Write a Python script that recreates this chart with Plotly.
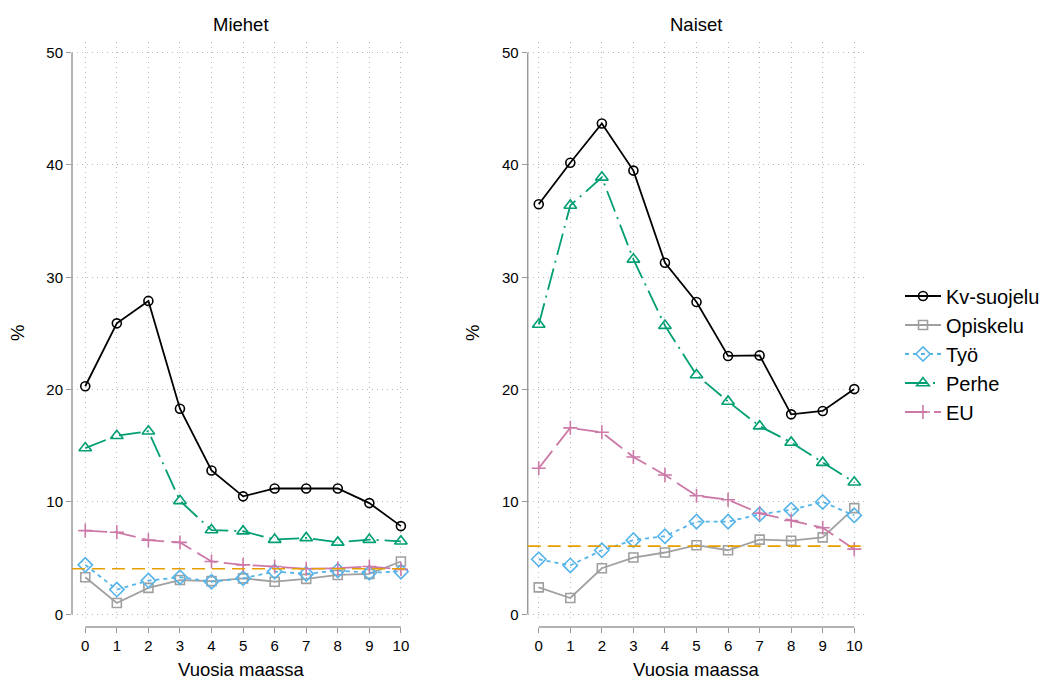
import plotly.graph_objects as go

years = list(range(0, 11))
series_names = ["Kv-suojelu", "Opiskelu", "Työ", "Perhe", "EU"]

# Miehet (men)
men_kv = [20.3, 25.9, 27.9, 18.3, 12.8, 10.5, 11.2, 11.2, 11.2, 9.9, 7.85]
men_opiskelu = [3.3, 1.0, 2.35, 3.05, 2.95, 3.2, 2.9, 3.15, 3.5, 3.6, 4.7]
men_tyo = [4.4, 2.2, 3.0, 3.3, 2.9, 3.2, 3.8, 3.6, 3.9, 3.7, 3.8]
men_perhe = [14.8, 15.9, 16.3, 10.1, 7.5, 7.4, 6.65, 6.8, 6.4, 6.65, 6.5]
men_eu = [7.45, 7.3, 6.6, 6.4, 4.7, 4.4, 4.25, 4.05, 4.1, 4.25, 4.0]

# Naiset (women)
women_kv = [36.5, 40.2, 43.7, 39.5, 31.3, 27.8, 23.0, 23.05, 17.8, 18.1, 20.05]
women_opiskelu = [2.4, 1.45, 4.1, 5.05, 5.5, 6.15, 5.7, 6.65, 6.55, 6.85, 9.45]
women_tyo = [4.9, 4.35, 5.7, 6.6, 6.95, 8.25, 8.25, 8.9, 9.3, 10.0, 8.8]
women_perhe = [25.8, 36.4, 38.9, 31.6, 25.7, 21.3, 18.95, 16.75, 15.3, 13.5, 11.75]
women_eu = [13.0, 16.6, 16.2, 14.0, 12.4, 10.55, 10.2, 9.0, 8.35, 7.7, 5.8]

# Reference (average) levels, dashed orange line
ref_levels = [4.05, 6.07]

panel_titles = ["Miehet", "Naiset"]
y_ticks = [0, 10, 20, 30, 40, 50]

styles = {
    "Kv-suojelu": dict(color="#000000", dash="solid", symbol="circle-open", size=9),
    "Opiskelu": dict(color="#a0a0a0", dash="solid", symbol="square-open", size=9),
    "Työ": dict(color="#56b4e9", dash="4px,4px", symbol="diamond-open", size=11),
    "Perhe": dict(color="#009e73", dash="22px,6px,2px,6px", symbol="triangle-up-open", size=11),
    "EU": dict(color="#cc79a7", dash="22px,7px", symbol="cross-thin-open", size=10),
}

panels = [
    [men_kv, men_opiskelu, men_tyo, men_perhe, men_eu],
    [women_kv, women_opiskelu, women_tyo, women_perhe, women_eu],
]

fig = go.Figure()
FONT = "Liberation Sans, Arial, sans-serif"

for p, data in enumerate(panels):
    xa = "x" if p == 0 else "x2"
    ya = "y" if p == 0 else "y2"
    for name, vals in zip(series_names, data):
        st = styles[name]
        fig.add_trace(go.Scatter(
            x=years, y=vals, name=name, mode="lines+markers",
            xaxis=xa, yaxis=ya, showlegend=(p == 0), legendgroup=name,
            line=dict(color=st["color"], width=1.8, dash=st["dash"]),
            marker=dict(symbol=st["symbol"], size=st["size"], color=st["color"],
                        line=dict(width=1.6, color=st["color"])),
        ))

# page body adds an 8px offset; work in screen pixels and subtract it
OFF = 8
W, H = 1052 - OFF, 680 - OFF
top, bottom = 42 - OFF, 627 - OFF
ph = bottom - top


def px_x(sx):
    return (sx - OFF) / W


def px_y(sy):
    return (bottom - (sy - OFF)) / ph


ydom0 = px_y(621.7)

axis_common = dict(
    showline=False, zeroline=False, showgrid=True,
    gridcolor="#b8b8b8", griddash="1px,4px", gridwidth=1,
    ticks="outside", ticklen=5, tickcolor="#9a9a9a", tickwidth=1.2,
    tickfont=dict(family=FONT, size=15, color="#000000"),
)

fig.update_layout(
    template="none",
    width=W, height=H,
    margin=dict(l=0, r=0, t=top, b=H - bottom, autoexpand=False),
    paper_bgcolor="white", plot_bgcolor="white",
    font=dict(family=FONT, color="#000000"),
    xaxis=dict(domain=[px_x(72), px_x(410.7)], range=[-0.42, 10.31],
               tickvals=years, anchor="free", position=0, **axis_common),
    yaxis=dict(domain=[ydom0, 1], range=[-0.66, 50.95], tickvals=y_ticks,
               anchor="x", **axis_common),
    xaxis2=dict(domain=[px_x(527.7), px_x(865)], range=[-0.35, 10.34],
                tickvals=years, anchor="free", position=0, **axis_common),
    yaxis2=dict(domain=[ydom0, 1], range=[-0.66, 50.95], tickvals=y_ticks,
                anchor="x2", **axis_common),
    legend=dict(x=px_x(900), xanchor="left", y=px_y(354), yanchor="middle",
                font=dict(family=FONT, size=20, color="#000000"),
                bgcolor="rgba(0,0,0,0)", itemwidth=36, tracegroupgap=0),
    showlegend=True,
)

# axis lines
for xref, yref in [("x", "y"), ("x2", "y2")]:
    fig.add_shape(type="line", xref=f"{xref} domain", yref=yref, x0=0, x1=0,
                  y0=y_ticks[0], y1=y_ticks[-1], line=dict(color="#9a9a9a", width=1.5))
    fig.add_shape(type="line", xref=xref, yref="paper", x0=years[0], x1=years[-1],
                  y0=0, y1=0, line=dict(color="#9a9a9a", width=1.5))

# reference lines
for yref, xref, lvl in zip(["y", "y2"], ["x", "x2"], ref_levels):
    fig.add_shape(type="line", xref=f"{xref} domain", yref=yref, x0=0, x1=1,
                  y0=lvl, y1=lvl, line=dict(color="#e69f00", width=1.6, dash="13px,7px"))

# titles and labels
centers = [px_x((72 + 410.7) / 2), px_x((527.7 + 865) / 2)]
for c, t in zip(centers, panel_titles):
    fig.add_annotation(text=t, x=c, y=px_y(24), xref="paper", yref="paper",
                       showarrow=False, font=dict(family=FONT, size=18.5, color="#000000"),
                       xanchor="center", yanchor="middle")
    fig.add_annotation(text="Vuosia maassa", x=c, y=px_y(669), xref="paper",
                       yref="paper", showarrow=False,
                       font=dict(family=FONT, size=18.5, color="#000000"),
                       xanchor="center", yanchor="middle")
for xpix in [17, 472]:
    fig.add_annotation(text="%", x=px_x(xpix), y=px_y(333), xref="paper",
                       yref="paper", showarrow=False, textangle=-90,
                       font=dict(family=FONT, size=18.5, color="#000000"),
                       xanchor="center", yanchor="middle")

fig.write_html("out.html")
